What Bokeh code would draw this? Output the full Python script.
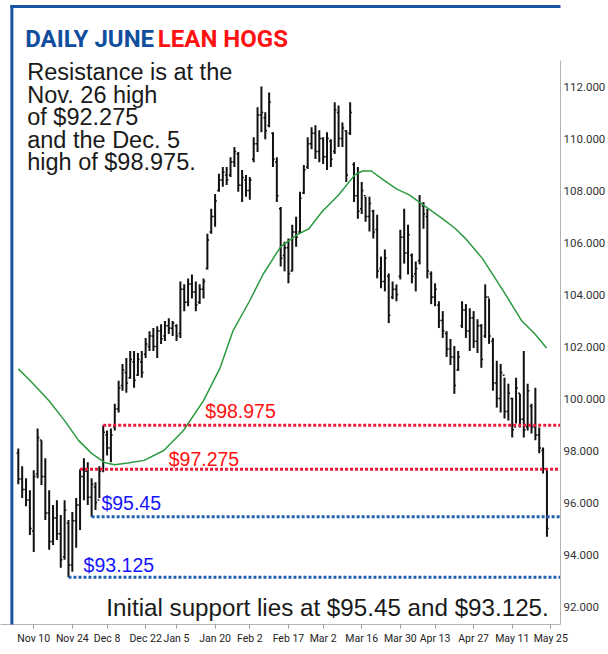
from bokeh.plotting import figure
from bokeh.models import Range1d, FixedTicker, BoxAnnotation, NumeralTickFormatter
from bokeh.core.properties import value
from bokeh.embed import file_html
from bokeh.resources import INLINE
import numpy as np

# ---------------- data (daily OHLC, June lean hogs) ----------------
first_day = -4  # trading-day index of first bar (0 = Nov 10)
highs = [98.08, 97.39, 96.93, 96.47, 97.24, 98.85, 98.39, 97.70, 96.47, 95.90,
         96.09, 95.52, 96.09, 95.33, 95.63, 96.17, 97.275, 97.70, 97.55, 96.93,
         96.78, 97.39, 98.975, 98.77, 98.85, 99.80, 100.68, 101.33, 101.56, 101.83,
         101.83, 101.75, 101.83, 102.33, 102.59, 102.71, 102.78, 102.86, 102.98, 103.09,
         102.98, 102.86, 104.50, 104.39, 104.62, 104.77, 104.50, 104.39, 104.62, 106.34,
         107.30, 107.87, 108.64, 108.90, 108.90, 109.28, 109.67, 109.48, 108.79, 108.60,
         108.52, 110.05, 111.20, 112.00, 111.01, 111.77, 110.24, 109.28, 107.37, 106.03,
         106.15, 106.68, 106.99, 107.95, 108.98, 110.05, 110.43, 110.51, 110.32, 110.05,
         110.24, 109.97, 111.39, 111.27, 110.62, 110.32, 111.39, 109.09, 108.90, 108.33,
         107.76, 107.76, 107.26, 107.07, 105.46, 105.73, 104.81, 104.50, 104.39, 106.49,
         107.30, 106.68, 105.58, 105.27, 107.83, 107.56, 107.30, 104.89, 104.43, 103.74,
         103.36, 102.59, 102.29, 102.02, 101.83, 103.74, 103.63, 103.47, 103.36, 103.05,
         102.86, 104.39, 103.85, 102.33, 101.45, 101.33, 100.80, 100.57, 100.03, 100.80,
         100.18, 101.83, 100.57, 99.80, 100.41, 98.88, 98.12, 97.32]
lows = [96.70, 96.17, 95.86, 94.75, 94.10, 96.93, 96.67, 95.33, 94.18, 94.37,
        94.56, 93.49, 93.80, 93.125, 93.34, 94.26, 94.94, 96.09, 95.90, 95.45,
        95.71, 96.17, 97.16, 97.81, 97.55, 98.77, 99.46, 100.30, 100.22, 100.76,
        100.41, 100.87, 100.80, 101.56, 101.83, 101.83, 101.56, 102.10, 102.21, 102.48,
        102.40, 102.21, 102.33, 103.36, 103.55, 103.85, 103.36, 103.63, 103.85, 104.96,
        106.34, 106.61, 107.95, 108.14, 108.21, 108.52, 108.90, 107.95, 107.56, 107.76,
        107.64, 109.09, 109.48, 110.24, 109.97, 110.43, 108.90, 107.56, 105.08, 104.89,
        104.43, 104.89, 105.84, 106.34, 107.87, 108.83, 109.59, 109.21, 109.09, 109.02,
        108.79, 108.90, 109.40, 109.67, 109.67, 108.33, 110.13, 107.56, 106.91, 107.10,
        106.80, 106.42, 106.15, 104.62, 104.24, 104.12, 102.90, 103.82, 103.74, 104.58,
        105.19, 104.77, 104.43, 104.12, 105.16, 106.53, 104.62, 103.63, 103.55, 102.71,
        102.33, 101.60, 101.29, 100.18, 101.06, 102.71, 102.33, 101.83, 101.94, 101.75,
        101.18, 102.33, 102.10, 100.30, 99.65, 99.46, 99.23, 99.15, 98.50, 99.04,
        98.88, 98.50, 98.77, 98.65, 98.39, 97.89, 97.12, 94.68]
opens = [97.9, 96.9, 96.5, 96.1, 94.9, 97.1, 98.4, 97.0, 95.6, 94.5,
         95.4, 94.8, 93.9, 95.2, 93.6, 95.3, 95.9, 97.0, 97.2, 96.2,
         96.6, 96.1, 97.3, 98.6, 98.1, 98.9, 99.6, 100.5, 101.0, 100.8,
         101.4, 100.9, 101.4, 101.7, 102.0, 102.4, 102.0, 102.6, 102.4, 102.8,
         102.7, 102.8, 102.5, 104.2, 103.7, 104.4, 104.1, 103.7, 104.2, 105.0,
         106.4, 107.0, 108.0, 108.4, 108.6, 108.6, 109.1, 109.4, 108.2, 108.4,
         108.0, 109.2, 109.8, 110.9, 110.8, 110.5, 110.2, 109.1, 107.3, 105.5,
         105.8, 104.9, 106.4, 106.4, 107.9, 108.9, 109.8, 110.2, 109.5, 110.0,
         109.3, 109.9, 109.5, 111.0, 110.0, 110.3, 110.2, 109.0, 107.8, 107.3,
         107.8, 107.0, 107.2, 106.5, 105.0, 104.5, 104.7, 103.9, 104.2, 104.7,
         106.2, 105.6, 105.5, 104.8, 105.3, 107.4, 107.0, 104.8, 103.9, 103.6,
         103.0, 102.5, 101.9, 101.6, 101.1, 102.8, 103.4, 102.6, 103.1, 102.2,
         102.8, 102.4, 103.9, 102.2, 100.6, 100.0, 100.9, 99.5, 100.0, 98.9,
         100.2, 99.2, 98.9, 99.7, 98.9, 98.6, 98.0, 97.3]
closes = [96.9, 96.5, 96.1, 95.0, 97.0, 98.5, 97.0, 95.6, 94.5, 95.4,
          94.8, 93.8, 95.7, 93.6, 95.3, 95.9, 97.0, 97.2, 96.2, 96.7,
          96.0, 97.2, 98.7, 98.1, 98.6, 99.6, 100.4, 101.1, 100.6, 101.5,
          100.7, 101.5, 101.0, 102.1, 102.4, 102.0, 102.6, 102.3, 102.8, 102.7,
          102.9, 102.4, 104.2, 103.7, 104.4, 104.1, 103.6, 104.2, 104.5, 106.1,
          107.0, 107.6, 108.4, 108.7, 108.4, 109.1, 109.5, 108.2, 108.5, 108.0,
          108.4, 109.8, 110.9, 111.0, 110.3, 111.4, 109.2, 107.8, 105.4, 105.8,
          104.8, 106.4, 106.2, 107.7, 108.8, 109.8, 110.2, 109.5, 110.0, 109.3,
          110.0, 109.2, 111.1, 110.0, 110.4, 108.6, 111.0, 107.8, 107.2, 108.0,
          107.0, 107.5, 106.4, 104.9, 104.5, 105.4, 103.2, 104.2, 104.0, 106.2,
          105.6, 106.3, 104.7, 105.0, 107.5, 107.1, 104.9, 103.9, 104.2, 103.0,
          102.6, 101.9, 101.6, 100.5, 101.6, 103.4, 102.6, 103.1, 102.2, 102.8,
          101.5, 103.9, 102.4, 100.6, 100.0, 101.0, 99.5, 100.2, 98.8, 100.4,
          99.2, 98.8, 100.3, 98.9, 98.6, 98.1, 97.3, 95.0]

# 40-day moving average
ma_day = [-4.0, -0.9, 3.9, 8.0, 11.6, 15.0, 18.3, 20.9, 24.4, 28.6, 33.7, 38.8, 44.0,
          48.3, 51.6, 55.9, 59.4, 64.0, 68.3, 71.3, 74.7, 79.0, 83.2, 85.2, 87.5,
          90.6, 94.0, 97.3, 100.9, 106.0, 109.3, 111.9, 116.3, 119.6, 122.9, 126.5,
          129.9, 132.9]
ma_val = [101.14, 100.68, 99.92, 99.15, 98.39, 97.89, 97.54, 97.45, 97.52, 97.62,
          98.00, 98.77, 99.92, 101.18, 102.59, 103.74, 104.77, 105.84, 106.30, 106.53,
          107.18, 107.83, 108.60, 108.75, 108.75, 108.41, 108.06, 107.83, 107.45,
          106.91, 106.53, 106.15, 105.38, 104.62, 103.85, 102.98, 102.48, 101.94]

tick_days = [0, 10, 19, 29, 37, 47, 56, 66, 75, 85, 95, 104, 114, 124, 134]
tick_labels = ["Nov 10", "Nov 24", "Dec 8", "Dec 22", "Jan 5", "Jan 20", "Feb 2",
               "Feb 17", "Mar 2", "Mar 16", "Mar 30", "Apr 13", "Apr 27", "May 11", "May 25"]
y_ticks = [92, 94, 96, 98, 100, 102, 104, 106, 108, 110, 112]

levels = [98.975, 97.275, 95.45, 93.125]
level_start = [18, 12, 15, 9]
level_labels = ["$98.975", "$97.275", "$95.45", "$93.125"]
level_kind = ["res", "res", "sup", "sup"]

# ---------------- layout helpers (page pixel -> data) ----------------
X0_PX, DX = 33.6, 3.9      # page x of day 0, px per trading day
Y92_PX, DY = 606.0, 26.0   # page y of 92.000, px per $1
def px_x(px):
    return (px - X0_PX) / DX
def px_y(py):
    return 92 + (Y92_PX - py) / DY

FRAME_R, FRAME_B = 566, 624
x_start, x_end = px_x(0), px_x(FRAME_R)
y_start, y_end = px_y(FRAME_B), px_y(0)

p = figure(width=608, height=654, output_backend="svg", toolbar_location=None,
           x_range=Range1d(x_start, x_end), y_range=Range1d(y_start, y_end),
           y_axis_location="right", title=None)
p.min_border_left = 0
p.min_border_top = 0
p.min_border_right = 608 - FRAME_R
p.min_border_bottom = 654 - FRAME_B
p.outline_line_color = None
p.background_fill_color = "white"
p.border_fill_color = "white"
p.xgrid.grid_line_color = None
p.ygrid.grid_line_color = None

AXFONT = "Roboto"
SANS = "Liberation Sans"

yax = p.yaxis[0]
yax.ticker = FixedTicker(ticks=y_ticks)
yax.formatter = NumeralTickFormatter(format="0.000")
yax.bounds = (y_start, px_y(60))
yax.axis_line_color = "#b4b4b4"
yax.major_tick_line_color = None
yax.minor_tick_line_color = None
yax.major_tick_out = 0
yax.major_tick_in = 0
yax.major_label_standoff = 3
yax.major_label_text_font = AXFONT
yax.major_label_text_font_size = "11.5px"
yax.major_label_text_color = "#333333"

xax = p.xaxis[0]
xax.ticker = FixedTicker(ticks=tick_days)
xax.major_label_overrides = {d: lab for d, lab in zip(tick_days, tick_labels)}
xax.axis_line_color = "#b4b4b4"
xax.major_tick_line_color = "#9a9a9a"
xax.major_tick_in = 0
xax.major_tick_out = 4
xax.minor_tick_line_color = None
xax.major_label_standoff = 3
xax.major_label_text_font = AXFONT
xax.major_label_text_font_size = "10.5px"
xax.major_label_text_color = "#222222"

# ---------------- blue frame ----------------
BORDER = "#1a52a2"
p.add_layout(BoxAnnotation(left=px_x(10), right=px_x(13), top=px_y(4.5), bottom=px_y(660),
                           fill_color=BORDER, fill_alpha=1.0, line_color=None))
p.add_layout(BoxAnnotation(left=px_x(10), right=px_x(615), top=px_y(4.5), bottom=px_y(7.5),
                           fill_color=BORDER, fill_alpha=1.0, line_color=None))

# ---------------- OHLC bars ----------------
days = np.arange(first_day, first_day + len(highs))
bar_col = "#111111"
p.segment(days, lows, days, highs, line_color=bar_col, line_width=2)
p.segment(days - 0.45, opens, days, opens, line_color=bar_col, line_width=1.5)
p.segment(days, closes, days + 0.45, closes, line_color=bar_col, line_width=1.5)

# moving average
p.line(ma_day, ma_val, line_color="#2c9b40", line_width=1.5)

# text is drawn with an alphabetic baseline; the renderer sits it ~8px low,
# so the page-pixel baselines below are compensated by TXT_SHIFT
TXT_SHIFT = 8.5

# support / resistance lines + labels
label_pos = [(207, 419), (170, 467), (102, 511), (84, 573)]
for lv, st, lab, kind, (lx, ly) in zip(levels, level_start, level_labels, level_kind, label_pos):
    lc = "#ec1b3c" if kind == "res" else "#2160b0"
    tc = "#ff1010" if kind == "res" else "#1414ff"
    p.segment(x0=[st], y0=[lv], x1=[x_end], y1=[lv], line_color=lc, line_width=3,
              line_dash="3 2")
    p.text(x=[px_x(lx)], y=[px_y(ly - TXT_SHIFT - 0.5)], text=[lab], text_color=tc,
           text_font=value(SANS), text_font_size="19.5px", text_baseline="alphabetic",
           text_align="left")

# title
p.text(x=[px_x(25)], y=[px_y(46.5 - TXT_SHIFT)], text=["DAILY JUNE"], text_color="#124e9e",
       text_font=value("Roboto"), text_font_size="24px", text_font_style="bold",
       text_baseline="alphabetic", text_align="left")
p.text(x=[px_x(159)], y=[px_y(46.5 - TXT_SHIFT)], text=["LEAN HOGS"], text_color="#ff1111",
       text_font=value("Roboto"), text_font_size="24px", text_font_style="bold",
       text_baseline="alphabetic", text_align="left")

# commentary
note_lines = ["Resistance is at the", "Nov. 26 high", "of $92.275", "and the Dec. 5",
              "high of $98.975."]
for j, ln in enumerate(note_lines):
    p.text(x=[px_x(27)], y=[px_y(80 + 22.5 * j - TXT_SHIFT)], text=[ln], text_color="#1a1a1a",
           text_font=value(SANS), text_font_size="23.5px", text_baseline="alphabetic",
           text_align="left")
p.text(x=[px_x(107)], y=[px_y(614 - TXT_SHIFT + 1.5)],
       text=["Initial support lies at $95.45 and $93.125."],
       text_color="#1a1a1a", text_font=value(SANS), text_font_size="24.2px",
       text_baseline="alphabetic", text_align="left")

open("out.html", "w").write(file_html(p, INLINE))
